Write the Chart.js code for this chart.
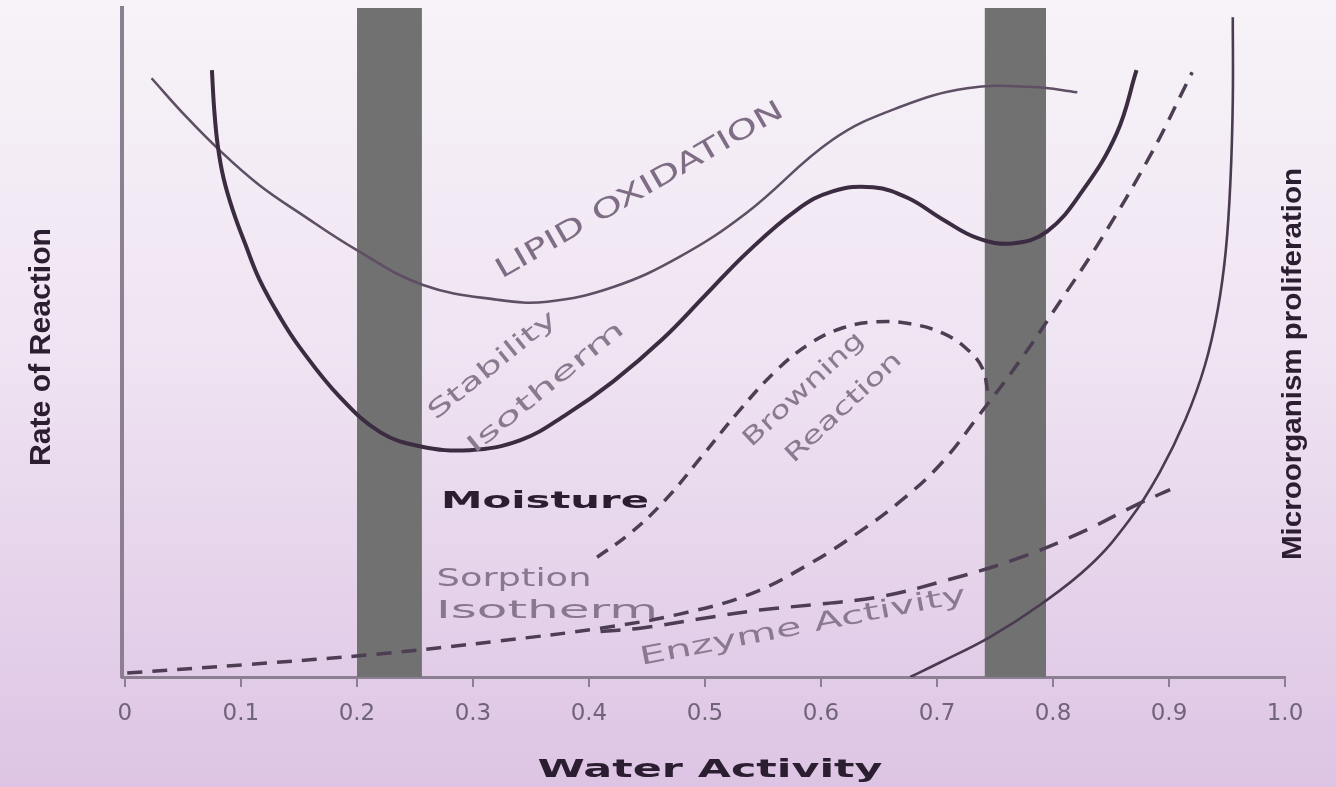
<!DOCTYPE html>
<html><head><meta charset="utf-8">
<script src="https://cdn.jsdelivr.net/npm/chart.js@4.4.1/dist/chart.umd.min.js"></script>
<style>html,body{margin:0;padding:0;background:#ece0f0;overflow:hidden}canvas{display:block}</style>
</head><body>
<canvas id="c" width="1336" height="787"></canvas>
<script>
// ---- tick labels ----
const xTickValues = [0,0.1,0.2,0.3,0.4,0.5,0.6,0.7,0.8,0.9,1.0];
const xTickLabels = ['0','0.1','0.2','0.3','0.4','0.5','0.6','0.7','0.8','0.9','1.0'];

// ---- series (water activity, relative rate 0-100) ----
const lipidX = [0.023,0.052,0.083,0.116,0.151,0.2,0.257,0.321,0.364,0.421,0.478,0.536,0.61,0.668,0.726,0.783,0.821];
const lipidY = [89.5,83.9,78.5,73.5,69.3,63.8,58.6,56.4,56.1,58.3,62.8,69.4,80.3,85.2,88.0,88.2,87.4];

const stabilityX = [0.075,0.077,0.08,0.085,0.093,0.104,0.116,0.134,0.151,0.185,0.22,0.254,0.297,0.341,0.381,0.421,0.464,0.5,0.536,0.579,0.61,0.645,0.675,0.705,0.735,0.765,0.795,0.826,0.855,0.872];
const stabilityY = [90.7,84.8,79.5,74.6,69.8,64.6,59.4,53.7,49.2,41.9,36.6,34.5,33.9,35.4,39.3,44.2,50.6,57.0,63.4,69.8,72.6,73.2,71.6,68.4,65.6,64.8,66.6,72.8,81.3,90.7];

const browningX = [0.407,0.435,0.466,0.496,0.53,0.562,0.591,0.619,0.648,0.677,0.705,0.726,0.739,0.744];
const browningY = [17.9,21.4,26.5,32.7,39.9,45.9,49.9,52.2,53.1,52.8,51.4,49.0,46.2,42.5];

const sorptionX = [0.002,0.108,0.216,0.323,0.41,0.478,0.539,0.591,0.634,0.668,0.703,0.737,0.772,0.806,0.841,0.884,0.92];
const sorptionY = [0.6,1.9,3.4,5.4,7.3,9.4,12.4,17.0,21.8,26.2,31.8,39.3,47.4,56.1,65.3,78.0,90.4];

const enzymeX = [0.41,0.444,0.496,0.547,0.599,0.651,0.709,0.766,0.823,0.875,0.901];
const enzymeY = [6.8,7.3,8.7,10.0,10.9,12.0,14.5,17.5,21.5,26.0,28.0];

const microX = [0.677,0.703,0.746,0.789,0.832,0.866,0.892,0.914,0.931,0.942,0.949,0.953,0.955,0.955];
const microY = [0,2.2,6.0,10.8,16.7,23.5,30.6,38.4,46.6,54.9,63.8,74.3,86.2,98.6];

// critical water-activity bands
const bandStart = [0.2,0.741];
const bandEnd = [0.256,0.794];
const bandTop = 100;

const zip = (xs, ys) => xs.map((x, i) => ({x, y: ys[i]}));

const lineDs = (data, color, width, dash, tension) => ({
  data, showLine: true, fill: false, borderColor: color, borderWidth: width,
  borderDash: dash || [], pointRadius: 0, tension: tension, borderCapStyle: 'butt'
});

const bandDs = (i) => ({
  data: [{x: bandStart[i], y: 0}, {x: bandStart[i], y: bandTop}, {x: bandEnd[i], y: bandTop}, {x: bandEnd[i], y: 0}],
  showLine: true, fill: 'origin', backgroundColor: '#717171', borderWidth: 0, borderColor: 'rgba(0,0,0,0)',
  pointRadius: 0, tension: 0
});

const annotations = [
  {text: 'LIPID OXIDATION', x: 640, y: 191, angle: -30, width: 328, font: '27px "DejaVu Sans"', color: '#7e6d84'},
  {text: 'Stability', x: 493, y: 366, angle: -39, width: 158, font: '24px "DejaVu Sans"', color: '#8a7a90'},
  {text: 'Isotherm', x: 546, y: 388, angle: -39, width: 195, font: '24px "DejaVu Sans"', color: '#8a7a90'},
  {text: 'Browning', x: 804, y: 390, angle: -43, width: 156, font: '24px "DejaVu Sans"', color: '#8a7a90'},
  {text: 'Reaction', x: 844, y: 408, angle: -43, width: 150, font: '24px "DejaVu Sans"', color: '#8a7a90'},
  {text: 'Moisture', x: 545, y: 502, angle: 0, width: 208, font: 'bold 23px "DejaVu Sans"', color: '#2c1e31'},
  {text: 'Sorption', x: 514, y: 579, angle: 0, width: 155, font: '25px "DejaVu Sans"', color: '#877790'},
  {text: 'Isotherm', x: 547, y: 611, angle: 0, width: 222, font: '25px "DejaVu Sans"', color: '#877790'},
  {text: 'Enzyme Activity', x: 803, y: 627, angle: -11, width: 332, font: '25px "DejaVu Sans"', color: '#8a7a90'},
  {text: 'Water Activity', x: 710, y: 770, angle: 0, width: 345, font: 'bold 25px "DejaVu Sans"', color: '#2c1e31'},
  {text: 'Rate of Reaction', x: 42, y: 347, angle: -90, width: 238, font: 'bold 29px "Liberation Sans Narrow", "Liberation Sans"', color: '#2c1e31'},
  {text: 'Microorganism proliferation', x: 1293, y: 364, angle: -90, width: 392, font: 'bold 28px "Liberation Sans Narrow", "Liberation Sans"', color: '#2c1e31'}
];

const bgPlugin = {
  id: 'bg',
  beforeDraw(chart) {
    const ctx = chart.ctx;
    const g = ctx.createLinearGradient(0, 0, 0, chart.height);
    g.addColorStop(0, '#f7f3f8');
    g.addColorStop(0.45, '#efe4f2');
    g.addColorStop(1, '#ddc4e4');
    ctx.save();
    ctx.fillStyle = g;
    ctx.fillRect(0, 0, chart.width, chart.height);
    ctx.restore();
  }
};

const textPlugin = {
  id: 'texts',
  afterDraw(chart) {
    const ctx = chart.ctx;
    annotations.forEach(a => {
      ctx.save();
      ctx.translate(a.x, a.y);
      ctx.rotate(a.angle * Math.PI / 180);
      ctx.font = a.font;
      const w = ctx.measureText(a.text).width;
      ctx.scale(a.width / w, 1);
      ctx.fillStyle = a.color;
      ctx.textAlign = 'center';
      ctx.textBaseline = 'middle';
      ctx.fillText(a.text, 0, 0);
      ctx.restore();
    });
  }
};

new Chart(document.getElementById('c'), {
  type: 'scatter',
  data: {
    datasets: [
      lineDs(zip(stabilityX, stabilityY), '#3b2c41', 4, null, 0.4),
      lineDs(zip(lipidX, lipidY), '#5e4f64', 2.6, null, 0.4),
      lineDs(zip(browningX, browningY), '#4d3e53', 3.5, [13, 9], 0.4),
      lineDs(zip(sorptionX, sorptionY), '#4d3e53', 3.5, [15, 10], 0.4),
      lineDs(zip(enzymeX, enzymeY), '#4d3e53', 3.5, [20, 12], 0.4),
      lineDs(zip(microX, microY), '#4a3b50', 2.6, null, 0.4),
      bandDs(0),
      bandDs(1)
    ]
  },
  options: {
    responsive: false,
    animation: false,
    devicePixelRatio: 1,
    layout: {padding: {left: 122, right: 51, top: 8, bottom: 0}},
    plugins: {legend: {display: false}, tooltip: {enabled: false}},
    scales: {
      x: {
        type: 'linear', min: -0.0025, max: 1.0,
        afterBuildTicks: s => { s.ticks = xTickValues.map(v => ({value: v})); },
        afterFit: s => { s.height = 110; },
        ticks: {
          callback: (v, i) => xTickLabels[i],
          font: {family: 'DejaVu Sans', size: 23}, color: '#716378',
          padding: 13, maxRotation: 0, autoSkip: false
        },
        grid: {drawOnChartArea: false, drawTicks: true, tickLength: 10, color: '#8c7f91', lineWidth: 2},
        border: {display: true, color: '#8c7f91', width: 3}
      },
      y: {
        min: 0, max: 100,
        afterFit: s => { s.width = 0; },
        ticks: {display: false},
        grid: {display: false},
        border: {display: true, color: '#8c7f91', width: 4}
      }
    }
  },
  plugins: [bgPlugin, textPlugin]
});
</script>
</body></html>
